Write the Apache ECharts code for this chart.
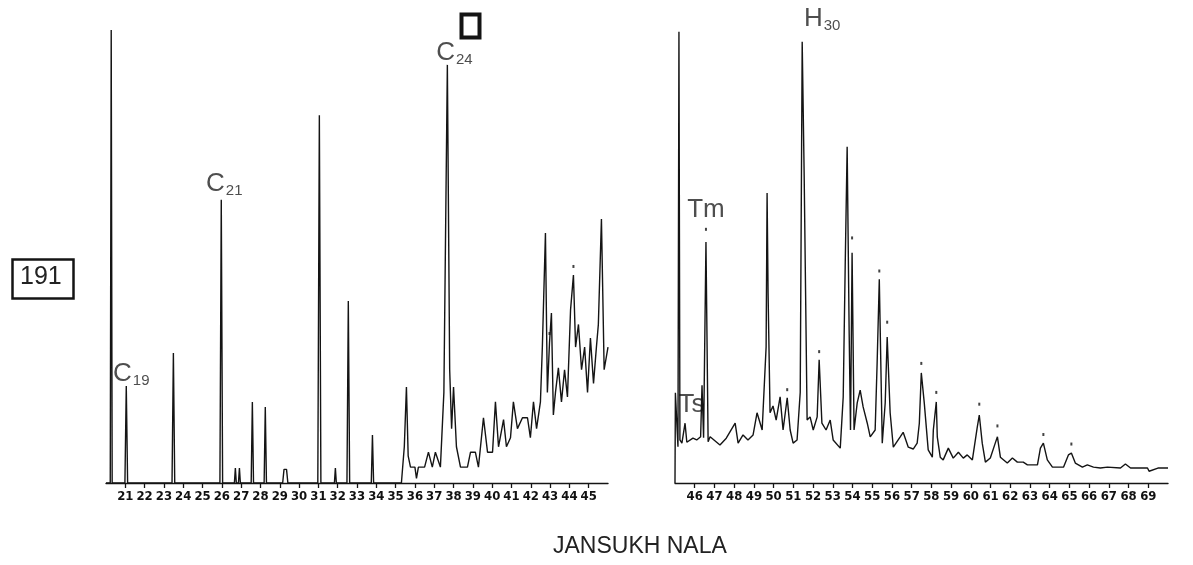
<!DOCTYPE html>
<html>
<head>
<meta charset="utf-8">
<script src="https://cdn.jsdelivr.net/npm/echarts@6/dist/echarts.min.js"></script>
<style>
  html, body { margin: 0; padding: 0; background: #fff; }
  #main { width: 1193px; height: 565px; }
</style>
</head>
<body>
<div id="main"></div>
<script>
// retention-time axis ranges of the two panels
var leftRange = [20, 46];
var rightRange = [45, 70];

// m/z 191 trace, left panel (n-alkane region): [time, relative height]
var leftTrace = [
    [20.0, 0], [20.22, 0], [20.27, 100], [20.32, 0],
    [20.98, 0], [21.05, 21.4], [21.12, 0],
    [23.42, 0], [23.49, 28.7], [23.56, 0],
    [25.9, 0], [25.97, 62.5], [26.04, 0],
    [26.65, 0], [26.7, 3.3], [26.75, 0], [26.86, 0], [26.91, 3.3], [26.96, 0],
    [27.52, 0], [27.58, 17.9], [27.64, 0],
    [28.19, 0], [28.25, 16.8], [28.31, 0],
    [29.15, 0], [29.22, 3.0], [29.35, 3.0], [29.42, 0],
    [30.97, 0], [31.05, 81.2], [31.13, 0],
    [31.83, 0], [31.88, 3.3], [31.93, 0],
    [32.48, 0], [32.55, 40.2], [32.62, 0],
    [33.74, 0], [33.8, 10.6], [33.86, 0],
    [35.3, 0], [35.45, 8], [35.56, 21.2], [35.65, 6], [35.77, 3.5], [36.0, 3.5],
    [36.08, 1.0], [36.18, 3.5], [36.5, 3.5], [36.7, 6.8], [36.9, 3.5], [37.06, 6.8],
    [37.32, 3.5], [37.5, 20], [37.68, 92.3], [37.8, 25], [37.9, 12], [38.0, 21.2],
    [38.15, 8], [38.36, 3.5], [38.72, 3.5], [38.88, 6.8], [39.13, 6.8], [39.29, 3.5],
    [39.55, 14.4], [39.76, 6.8], [40.02, 6.8], [40.17, 17.9], [40.33, 8], [40.59, 14],
    [40.74, 8], [40.95, 10], [41.1, 17.9], [41.31, 12], [41.57, 14.4], [41.83, 14.4],
    [41.98, 10], [42.14, 17.9], [42.3, 12], [42.5, 17.9], [42.6, 30], [42.76, 55.2],
    [42.86, 20], [42.97, 30.9], [43.07, 37.5], [43.17, 15], [43.28, 20], [43.43, 25.4],
    [43.59, 17.9], [43.75, 25], [43.9, 19], [44.06, 38.2], [44.21, 45.9], [44.32, 30],
    [44.47, 35], [44.63, 25], [44.79, 30], [44.94, 20], [45.09, 32], [45.25, 22],
    [45.4, 30], [45.5, 35], [45.66, 58.3], [45.8, 25], [45.9, 25], [46.0, 30]
];

// right panel (terpane region)
var rightTrace = [
    [45.0, 0], [45.02, 19.9], [45.1, 19.9], [45.15, 8], [45.2, 99.6], [45.25, 9.5],
    [45.35, 8.8], [45.51, 13.2], [45.6, 9.0], [45.91, 9.9], [46.1, 9.5], [46.3, 10.2],
    [46.37, 21.6], [46.45, 10], [46.57, 53.2], [46.68, 9.1], [46.78, 10.2], [47.28, 8.4],
    [47.6, 9.9], [48.05, 13.2], [48.2, 8.8], [48.45, 10.6], [48.7, 9.5], [48.96, 10.6],
    [49.16, 15.5], [49.42, 11.7], [49.62, 30], [49.67, 64.0], [49.72, 41.9], [49.82, 15.5],
    [49.97, 17], [50.13, 13.9], [50.33, 19], [50.48, 11.7], [50.69, 18.8], [50.84, 11.7],
    [50.99, 8.8], [51.19, 9.5], [51.35, 20], [51.45, 97.4], [51.55, 68], [51.7, 13.9],
    [51.85, 14.6], [52.01, 11.7], [52.21, 14.6], [52.31, 27.2], [52.45, 13.2], [52.66, 11.7],
    [52.87, 13.9], [53.02, 9.5], [53.38, 7.7], [53.53, 19.0], [53.63, 47.7], [53.73, 74.2],
    [53.83, 33.8], [53.9, 11.7], [53.98, 50.8], [54.08, 11.7], [54.24, 17.7], [54.39, 20.5],
    [54.54, 16.8], [54.75, 13.2], [54.9, 10.2], [55.15, 11.7], [55.25, 26.5], [55.36, 45],
    [55.51, 8.8], [55.66, 17.7], [55.76, 32.2], [55.91, 15.5], [56.07, 7.9], [56.42, 10.2],
    [56.57, 11.2], [56.83, 7.9], [57.08, 7.5], [57.28, 8.8], [57.39, 13.2], [57.49, 24.3],
    [57.64, 17.7], [57.84, 7.3], [58.05, 5.7], [58.1, 11.7], [58.25, 17.9], [58.3, 10.2],
    [58.45, 5.7], [58.6, 5.1], [58.86, 7.7], [59.11, 5.5], [59.37, 6.8], [59.62, 5.5],
    [59.82, 6.2], [60.08, 5.1], [60.33, 12.4], [60.43, 15.0], [60.58, 8.8], [60.74, 4.6],
    [60.99, 5.5], [61.24, 8.8], [61.35, 10.2], [61.5, 5.7], [61.85, 4.4], [62.11, 5.5],
    [62.36, 4.6], [62.66, 4.6], [62.87, 4.0], [63.38, 4.0], [63.53, 7.7], [63.68, 8.8],
    [63.88, 5.1], [64.14, 3.5], [64.7, 3.5], [64.95, 6.2], [65.1, 6.6], [65.3, 4.4],
    [65.66, 3.5], [65.91, 4.0], [66.22, 3.5], [66.57, 3.3], [66.93, 3.5], [67.59, 3.3],
    [67.84, 4.2], [68.1, 3.3], [68.96, 3.3], [69.04, 2.6], [69.49, 3.3], [70.0, 3.3]
];

// small dots printed above some peaks
var leftDots = [[44.21, 47.8], [42.97, 33]];
var rightDots = [
    [46.57, 56], [50.69, 20.6], [52.31, 29], [53.98, 54.1], [55.36, 46.8], [55.76, 35.5],
    [57.49, 26.4], [58.25, 20], [60.43, 17.4], [61.35, 12.6], [63.68, 10.7], [65.1, 8.6]
];

// peak names: [main, subscript, time, height]
var leftNames = [['C', '19', 21.05, 21.4], ['C', '21', 25.97, 62.5], ['C', '24', 37.68, 92.3]];
var rightNames = [['H', '30', 51.45, 97.4], ['Tm', '', 46.57, 53.2], ['Ts', '', 45.02, 19.9]];
var nameOffsets = {
    'C19': [5, 2], 'C21': [3, -2], 'C24': [7, 2],
    'H30': [20, -8], 'Tm': [0, -18], 'Ts': [16, 12]
};

var panelTitle = 'JANSUKH NALA';
var ionLabel = '191';

var ink = '#141414';
var textInk = '#222';
var font = 'Liberation Sans, Arial, sans-serif';

function nameItems(list) {
    return list.map(function (n) {
        var key = n[0] + n[1];
        return {
            value: [n[2], n[3]],
            label: {
                show: true,
                position: n[1] || n[0] === 'Tm' ? 'top' : 'inside',
                distance: 0,
                offset: nameOffsets[key],
                formatter: n[1] ? '{m|' + n[0] + '}{s|' + n[1] + '}' : '{m|' + n[0] + '}'
            }
        };
    });
}

function xAxisFor(range, gridIndex) {
    return {
        type: 'value',
        gridIndex: gridIndex,
        min: range[0],
        max: range[1],
        interval: 1,
        axisLine: { show: true, onZero: false, lineStyle: { color: ink, width: 1.4 } },
        axisTick: { show: true, length: 5, lineStyle: { color: ink, width: 1.3 } },
        axisLabel: {
            showMinLabel: false,
            showMaxLabel: false,
            margin: 7,
            color: '#111',
            fontSize: 13,
            fontWeight: 'bold',
            fontFamily: 'Liberation Sans Narrow, DejaVu Sans Condensed, sans-serif'
        },
        splitLine: { show: false }
    };
}

function yAxisFor(gridIndex) {
    return { type: 'value', gridIndex: gridIndex, min: 0, max: 100, show: false, splitLine: { show: false } };
}

var richStyle = {
    m: { fontSize: 26, fontFamily: font, color: textInk, lineHeight: 28 },
    s: { fontSize: 15, fontFamily: font, color: textInk, padding: [14, 0, 0, 1] }
};

var chart = echarts.init(document.getElementById('main'));
chart.setOption({
    animation: false,
    backgroundColor: '#fff',
    grid: [
        { left: 106, top: 30, width: 502, height: 453 },
        { left: 675, top: 30, width: 493, height: 453 }
    ],
    xAxis: [xAxisFor(leftRange, 0), xAxisFor(rightRange, 1)],
    yAxis: [yAxisFor(0), yAxisFor(1)],
    graphic: [
        {
            type: 'rect', left: 10, top: 257,
            shape: { width: 61, height: 39 },
            style: { fill: 'none', stroke: ink, lineWidth: 2.5 }
        },
        {
            type: 'text', left: 20, top: 265,
            style: { text: ionLabel, font: '25px ' + font, fill: textInk }
        },
        {
            type: 'rect', left: 459, top: 12,
            shape: { width: 18, height: 23 },
            style: { fill: 'none', stroke: ink, lineWidth: 4 }
        },
        {
            type: 'text', left: 553, top: 535,
            style: { text: panelTitle, font: '23px ' + font, fill: textInk }
        }
    ],
    series: [
        {
            type: 'line', xAxisIndex: 0, yAxisIndex: 0, data: leftTrace,
            showSymbol: false, symbol: 'none', clip: true,
            lineStyle: { color: ink, width: 1.4 }
        },
        {
            type: 'line', xAxisIndex: 1, yAxisIndex: 1, data: rightTrace,
            showSymbol: false, symbol: 'none', clip: true,
            lineStyle: { color: ink, width: 1.4 }
        },
        {
            type: 'scatter', xAxisIndex: 0, yAxisIndex: 0, data: leftDots,
            symbol: 'rect', symbolSize: [2, 3], itemStyle: { color: ink }
        },
        {
            type: 'scatter', xAxisIndex: 1, yAxisIndex: 1, data: rightDots,
            symbol: 'rect', symbolSize: [2, 3], itemStyle: { color: ink }
        },
        {
            type: 'scatter', xAxisIndex: 0, yAxisIndex: 0, data: nameItems(leftNames),
            symbolSize: 0, label: { rich: richStyle }
        },
        {
            type: 'scatter', xAxisIndex: 1, yAxisIndex: 1, data: nameItems(rightNames),
            symbolSize: 0, label: { rich: richStyle }
        }
    ]
});
window.onresize = chart.resize;
</script>
</body>
</html>
